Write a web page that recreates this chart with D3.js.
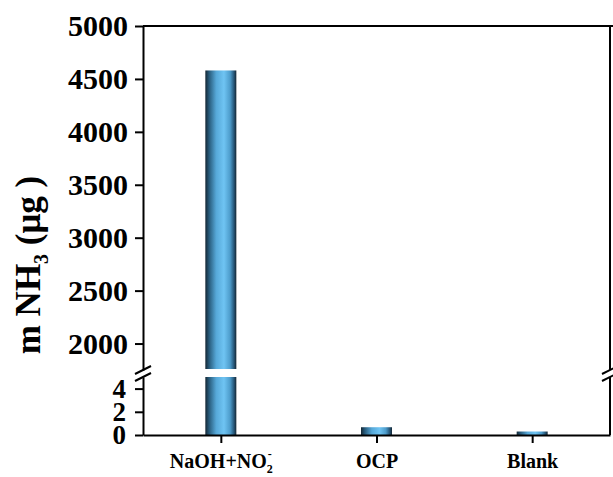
<!DOCTYPE html>
<html>
<head>
<meta charset="utf-8">
<script src="https://cdn.jsdelivr.net/npm/d3@7"></script>
<style>
  body { margin: 0; background: #fff; }
  text { font-family: "Liberation Serif", "Times New Roman", serif; font-weight: bold; fill: #000; }
</style>
</head>
<body>
<div id="chart"></div>
<script>
// Data ------------------------------------------------------------------------
const categories = ["NaOH+NO2-", "OCP", "Blank"];
const values = [4580, 0.67, 0.3];
const upperTicks = [2000, 2500, 3000, 3500, 4000, 4500, 5000];
const lowerTicks = [0, 2, 4];
const upperDomain = [1750, 5000];
const lowerDomain = [0, 5];

// Layout ----------------------------------------------------------------------
const width = 613;
const height = 477;
const plotLeft = 143, plotRight = 610, plotTop = 26, plotBottom = 435;
const barWidth = 31;

const svg = d3.select("#chart")
  .append("svg")
  .attr("width", width)
  .attr("height", height);

const x = d3.scalePoint()
  .domain(categories)
  .range([plotLeft, plotRight])
  .padding(0.5);

const yTop = d3.scaleLinear().domain(upperDomain).range([370, plotTop]);
const yBot = d3.scaleLinear().domain(lowerDomain).range([plotBottom, 377]);

// Bar gradient ------------------------------------------------------------------
const grad = svg.append("defs")
  .append("linearGradient")
  .attr("id", "bar-gradient")
  .attr("x1", 0).attr("x2", 1).attr("y1", 0).attr("y2", 0);

[[0, "#142633"], [0.12, "#275a7a"], [0.35, "#56a8d8"], [0.6, "#6fc4f3"],
 [0.8, "#4d9ccb"], [0.92, "#27587a"], [1, "#142633"]]
  .forEach(([o, c]) => grad.append("stop").attr("offset", o).attr("stop-color", c));

// Bars --------------------------------------------------------------------------
categories.forEach((c, i) => {
  const v = values[i];
  const bx = x(c) - barWidth / 2;
  if (v > lowerDomain[1]) {
    svg.append("rect")
      .attr("x", bx).attr("width", barWidth)
      .attr("y", yTop(v)).attr("height", yTop(upperDomain[0]) - yTop(v) - 1)
      .attr("fill", "url(#bar-gradient)");
    svg.append("rect")
      .attr("x", bx).attr("width", barWidth)
      .attr("y", yBot(lowerDomain[1])).attr("height", yBot(0) - yBot(lowerDomain[1]))
      .attr("fill", "url(#bar-gradient)");
  } else {
    svg.append("rect")
      .attr("x", bx).attr("width", barWidth)
      .attr("y", yBot(v)).attr("height", yBot(0) - yBot(v))
      .attr("fill", "url(#bar-gradient)");
  }
});

// Axes ----------------------------------------------------------------------------
const styleAxis = size => g => {
  g.selectAll("path, line").attr("stroke", "#000").attr("stroke-width", 2);
  g.selectAll("text").style("font-size", size + "px");
};

svg.append("g")
  .attr("transform", `translate(${plotLeft},0)`)
  .call(d3.axisLeft(yTop).tickValues(upperTicks).tickFormat(d3.format("d"))
    .tickSize(8).tickSizeOuter(0).tickPadding(7))
  .call(styleAxis(30));

svg.append("g")
  .attr("transform", `translate(${plotLeft},0)`)
  .call(d3.axisLeft(yBot).tickValues(lowerTicks).tickFormat(d3.format("d"))
    .tickSize(8).tickSizeOuter(0).tickPadding(9))
  .call(styleAxis(27));

const xAxis = svg.append("g")
  .attr("transform", `translate(0,${plotBottom})`)
  .call(d3.axisBottom(x).tickSize(8).tickSizeOuter(0).tickFormat(""));
xAxis.selectAll("path, line").attr("stroke", "#000").attr("stroke-width", 2);

// Category labels with sub/superscripts
xAxis.selectAll(".tick").each(function(d) {
  const t = d3.select(this).append("text")
    .attr("y", 33)
    .attr("text-anchor", "middle")
    .style("font-size", "20px");
  if (d === "NaOH+NO2-") {
    t.append("tspan").text("NaOH+NO");
    t.append("tspan").attr("dy", 5).style("font-size", "12px").text("2");
    t.append("tspan").attr("dy", -15).attr("dx", -5).style("font-size", "12px").text("-");
  } else {
    t.text(d);
  }
});

// Frame (top + right) ---------------------------------------------------------------
svg.append("line")
  .attr("x1", plotLeft).attr("x2", width).attr("y1", plotTop).attr("y2", plotTop)
  .attr("stroke", "#000").attr("stroke-width", 2);
svg.append("line")
  .attr("x1", plotRight).attr("x2", plotRight).attr("y1", plotTop).attr("y2", yTop(upperDomain[0]))
  .attr("stroke", "#000").attr("stroke-width", 2);
svg.append("line")
  .attr("x1", plotRight).attr("x2", plotRight).attr("y1", yBot(lowerDomain[1])).attr("y2", plotBottom)
  .attr("stroke", "#000").attr("stroke-width", 2);

// Axis break marks -------------------------------------------------------------
[plotLeft, plotRight].forEach(ax => {
  [yTop(upperDomain[0]), yBot(lowerDomain[1])].forEach(yy => {
    svg.append("line")
      .attr("x1", ax - 8).attr("x2", ax + 8)
      .attr("y1", yy + 4).attr("y2", yy - 4)
      .attr("stroke", "#000").attr("stroke-width", 2);
  });
});

// Y title -----------------------------------------------------------------------
const title = svg.append("text")
  .attr("transform", "translate(40,265) rotate(-90)")
  .attr("text-anchor", "middle")
  .style("font-size", "35px");
title.append("tspan").text("m NH");
title.append("tspan").attr("dy", 8).style("font-size", "20px").text("3");
title.append("tspan").attr("dy", -8).text(" (μg )");
</script>
</body>
</html>
